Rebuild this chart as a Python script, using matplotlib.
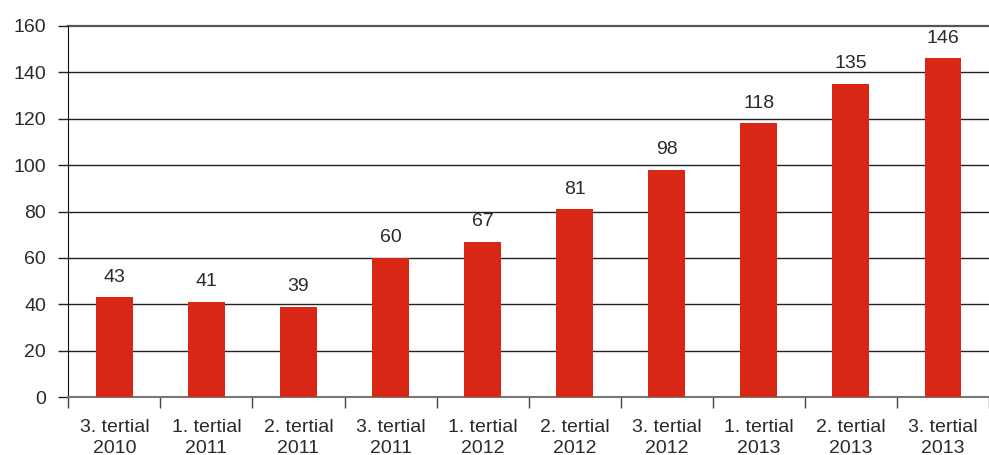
import matplotlib.pyplot as plt
import numpy as np

# data
perioder = ['3. tertial\n2010', '1. tertial\n2011', '2. tertial\n2011', '3. tertial\n2011',
            '1. tertial\n2012', '2. tertial\n2012', '3. tertial\n2012', '1. tertial\n2013',
            '2. tertial\n2013', '3. tertial\n2013']
verdier = [43, 41, 39, 60, 67, 81, 98, 118, 135, 146]
y_ticks = [0, 20, 40, 60, 80, 100, 120, 140, 160]

plt.rcParams['font.family'] = ['Liberation Sans', 'DejaVu Sans']

fig = plt.figure(figsize=(9.89, 4.55), dpi=100)
ax = fig.add_axes([68.3 / 989, 58 / 455, 1 - 68.3 / 989, 371 / 455])

x = np.arange(len(perioder))
ax.bar(x, verdier, width=0.40, color='#d92716', zorder=3)

for xi, v in zip(x, verdier):
    ax.text(xi, v + 5, str(v), ha='center', va='bottom', fontsize=14, color='#2a2a2a')

# gridlines
for t in y_ticks[1:]:
    ax.axhline(t, color='#555555' if t == 160 else '#222222',
               lw=1.6 if t == 160 else 1.0, zorder=1, clip_on=False)

ax.set_ylim(0, 160)
ax.set_xlim(-0.5, 9.42)
ax.set_yticks(y_ticks)
ax.tick_params(axis='y', length=7, width=1, color='#222222', labelsize=14,
               labelcolor='#2a2a2a', pad=9)

# x ticks at category boundaries, labels centred
ax.set_xticks(np.arange(-0.5, 10, 1))
ax.set_xticklabels([])
ax.tick_params(axis='x', which='major', length=8, width=1, color='#444444')
ax.set_xticks(x, minor=True)
ax.set_xticklabels(perioder, minor=True, fontsize=14, color='#2a2a2a', linespacing=1.3)
ax.tick_params(axis='x', which='minor', length=0, pad=16)

for s in ['top', 'right']:
    ax.spines[s].set_visible(False)
ax.spines['left'].set_color('#111111')
ax.spines['bottom'].set_color('#777777')
ax.spines['bottom'].set_linewidth(1.5)

fig.savefig('out.png', dpi=100)
